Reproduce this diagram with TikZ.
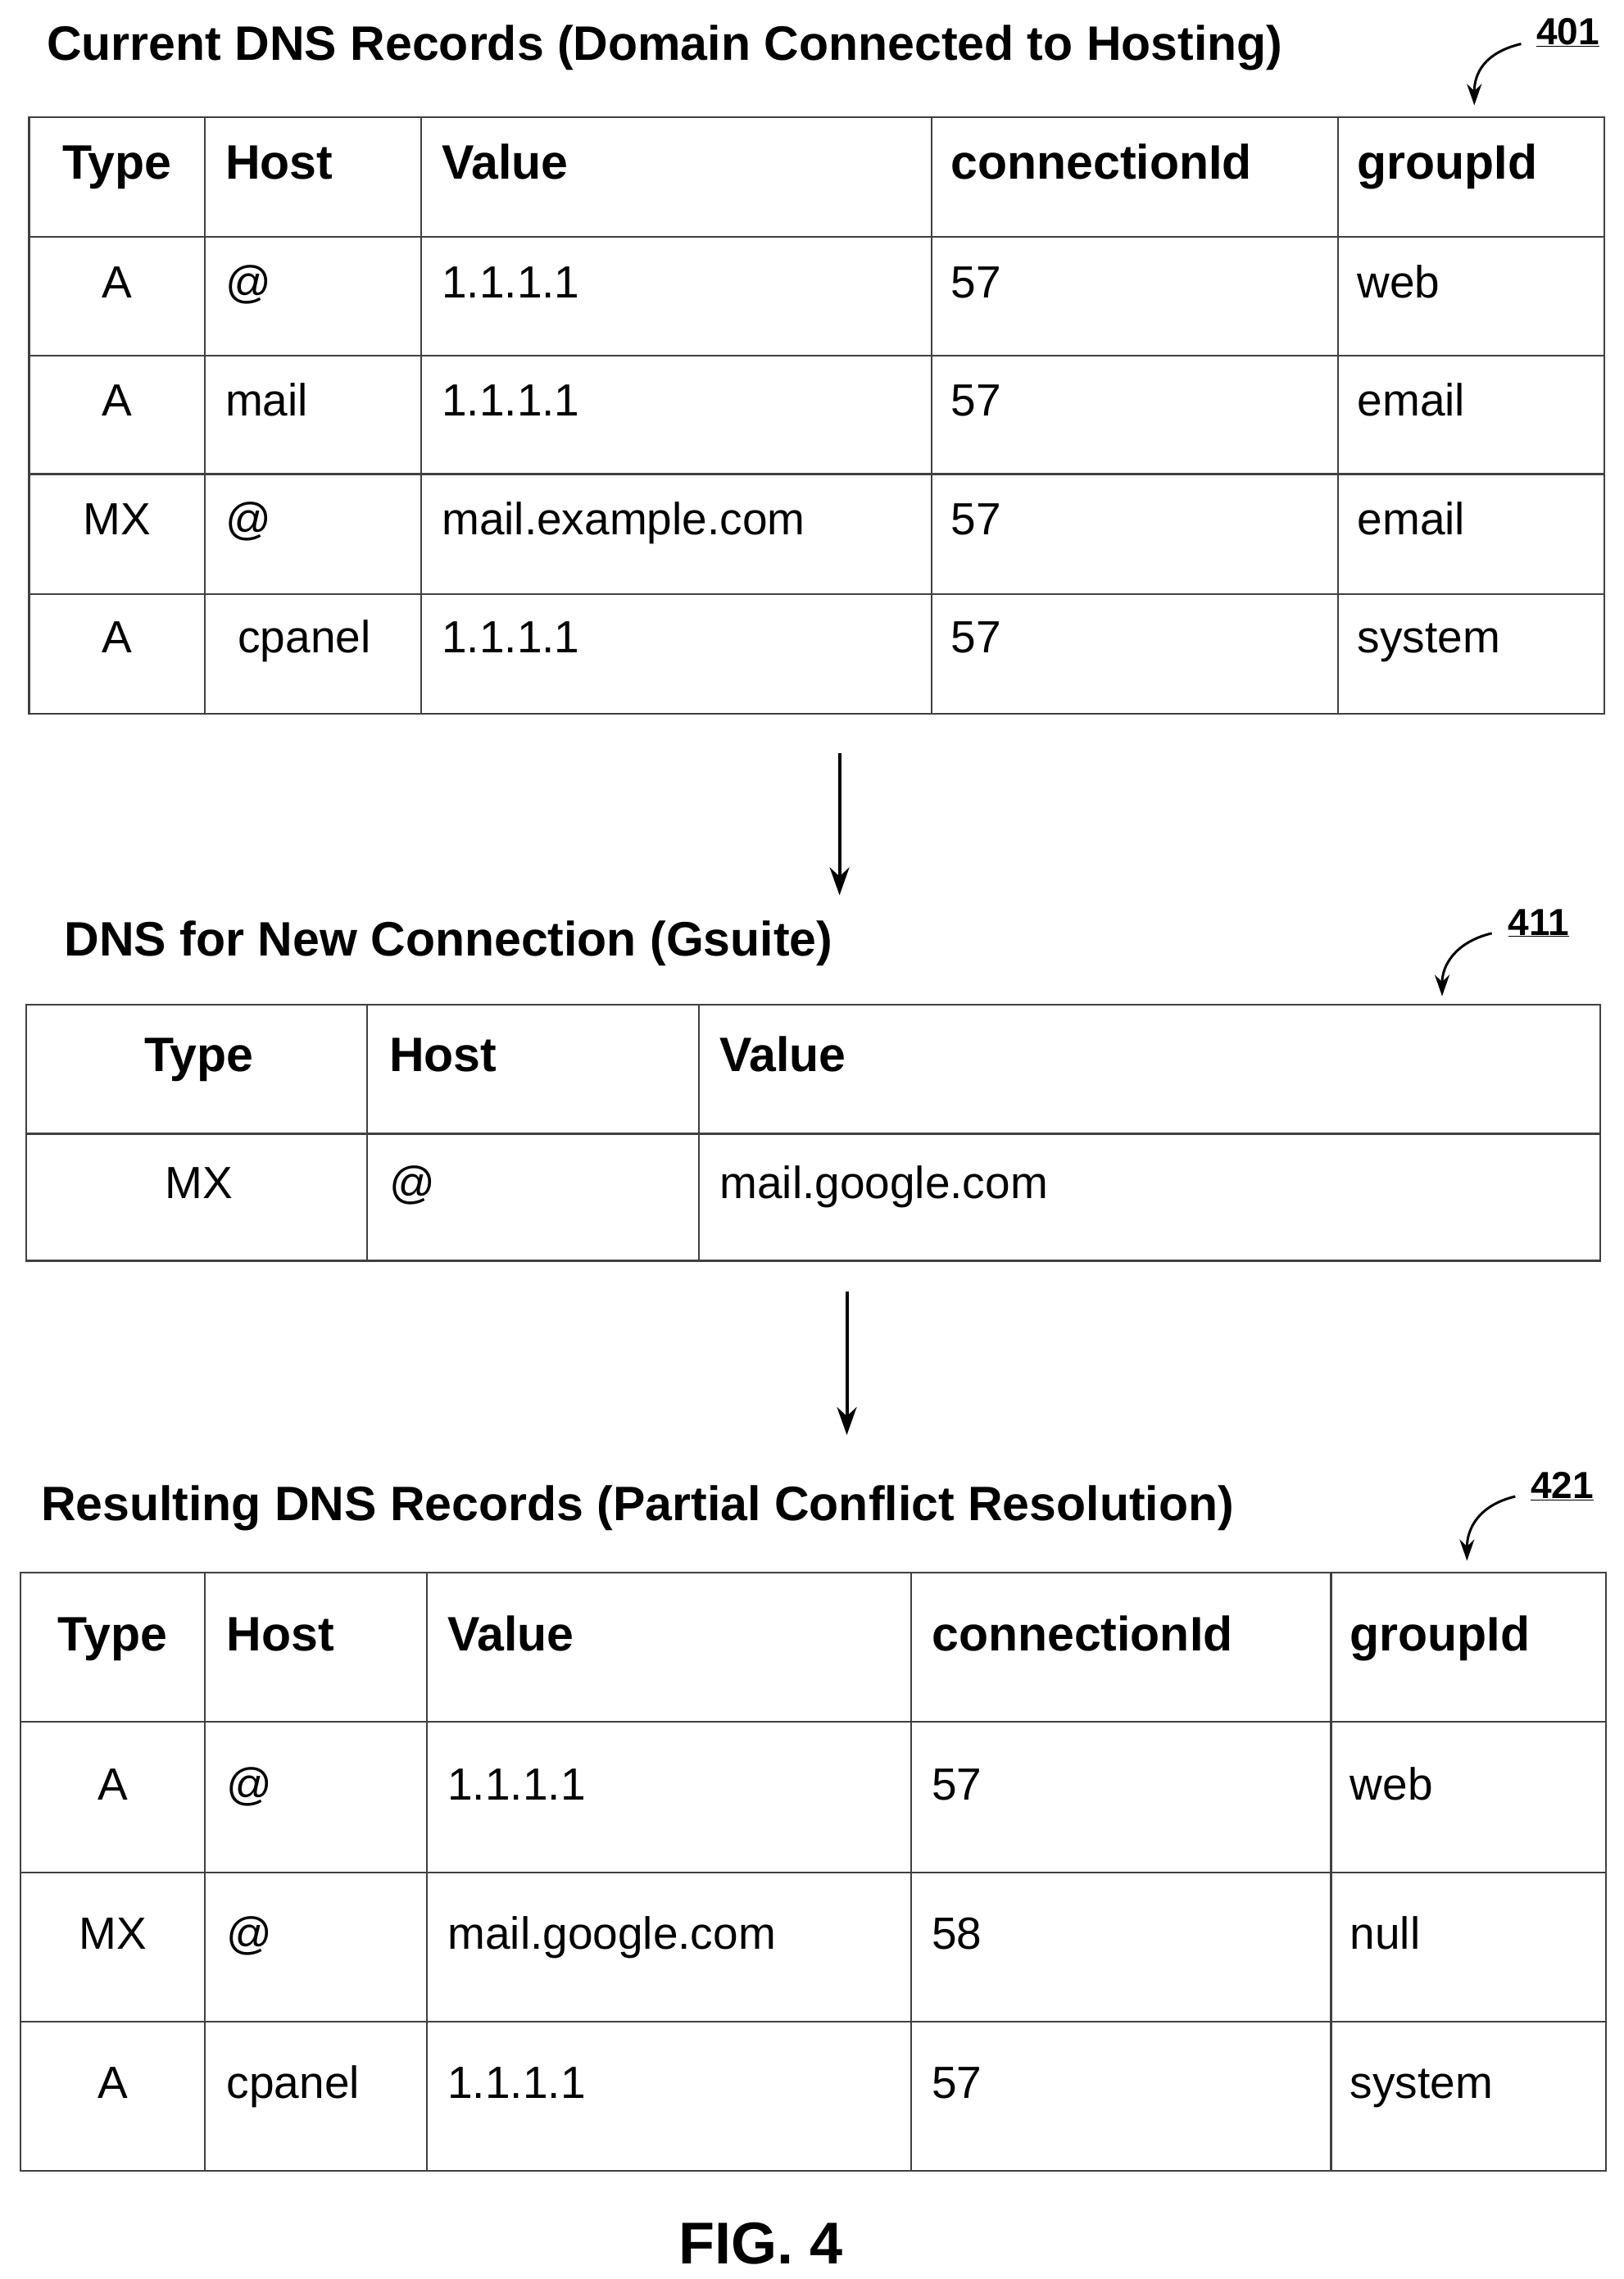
\documentclass[tikz,border=0pt]{standalone}
\usepackage{fontspec}
\setmainfont{Liberation Sans}
\usetikzlibrary{arrows.meta}
\begin{document}
\begin{tikzpicture}[x=1.7847pt,y=-1.7847pt,
  grid/.style={draw=black!75,line width=2.4pt},
  fix/.style={text height=0.72em,text depth=0.22em,inner sep=0pt},
  hd/.style={fix,font=\fontsize{59}{62}\selectfont\bfseries,anchor=west},
  hdc/.style={fix,font=\fontsize{59}{62}\selectfont\bfseries,anchor=center},
  cl/.style={fix,font=\fontsize{55}{58}\selectfont,anchor=west},
  cc/.style={fix,font=\fontsize{55}{58}\selectfont,anchor=center},
  ttl/.style={fix,font=\fontsize{59}{62}\selectfont\bfseries,anchor=west},
  ref/.style={font=\fontsize{46}{50}\selectfont\bfseries},
  arr/.style={line width=4pt,-{Stealth[length=34pt,width=24pt]}},
  carr/.style={line width=3pt,-{Stealth[length=26pt,width=18pt]}}]
\useasboundingbox (0,0) rectangle (1110,1558);
% titles
\node[ttl] (t1) at (32,40) {Current DNS Records (Domain Connected to Hosting)};
\node[ttl] (t2) at (44,652) {DNS for New Connection (Gsuite)};
\node[ttl] (t3) at (28,1038) {Resulting DNS Records (Partial Conflict Resolution)};
% table 1
\draw[grid] (20,80) rectangle (1097,488);
\foreach \x in {140,288,637,915} \draw[grid] (\x,80) -- (\x,488);
\foreach \y in {162,243,324,406} \draw[grid] (20,\y) -- (1097,\y);
\node[hdc] (a1) at (80,121) {Type};
\node[hd] (a2) at (154,121) {Host};
\node[hd] (a3) at (302,121) {Value};
\node[hd] (a4) at (650,121) {connectionId};
\node[hd] (a5) at (928,121) {groupId};
\foreach \r/\y/\t/\h/\v/\g in {1/202/A/@/1.1.1.1/web,2/283/A/mail/1.1.1.1/email,3/364/MX/@/mail.example.com/email,4/445/A/\ cpanel/1.1.1.1/system}{
  \node[cc] (a\r t) at (80,\y) {\t};
  \node[cl] (a\r h) at (154,\y) {\h};
  \node[cl] (a\r v) at (302,\y) {\v};
  \node[cl] (a\r c) at (650,\y) {57};
  \node[cl] (a\r g) at (928,\y) {\g};
}
% table 2
\draw[grid] (18,687) rectangle (1094,862);
\foreach \x in {251,478} \draw[grid] (\x,687) -- (\x,862);
\draw[grid] (18,775) -- (1094,775);
\node[hdc] (b1) at (136,731) {Type};
\node[hd] (b2) at (266,731) {Host};
\node[hd] (b3) at (492,731) {Value};
\node[cc] (b4) at (136,818) {MX};
\node[cl] (b5) at (266,818) {@};
\node[cl] (b6) at (492,818) {mail.google.com};
% table 3
\draw[grid] (14,1075) rectangle (1098,1484);
\foreach \x in {140,292,623,910} \draw[grid] (\x,1075) -- (\x,1484);
\foreach \y in {1177,1280,1382} \draw[grid] (14,\y) -- (1098,\y);
\node[hdc] (c1) at (77,1127) {Type};
\node[hd] (c2) at (155,1127) {Host};
\node[hd] (c3) at (306,1127) {Value};
\node[hd] (c4) at (637,1127) {connectionId};
\node[hd] (c5) at (923,1127) {groupId};
\foreach \r/\y/\t/\h/\v/\c/\g in {1/1229/A/@/1.1.1.1/57/web,2/1331/MX/@/mail.google.com/58/null,3/1433/A/cpanel/1.1.1.1/57/system}{
  \node[cc] (c\r t) at (77,\y) {\t};
  \node[cl] (c\r h) at (155,\y) {\h};
  \node[cl] (c\r v) at (306,\y) {\v};
  \node[cl] (c\r c) at (637,\y) {\c};
  \node[cl] (c\r g) at (923,\y) {\g};
}
% arrows between tables
\coordinate (p1) at (574,515); \coordinate (p2) at (574,612);
\coordinate (q1) at (579,883); \coordinate (q2) at (579,981);
\draw[arr] (p1) -- (p2);
\draw[arr] (q1) -- (q2);
% reference labels
\node[ref] (r1) at (1072,22) {\underline{401}};
\coordinate (r1a) at (1040,30); \coordinate (r1b) at (1008,72);
\draw[carr] (r1a) .. controls (1015,36) and (1008,50) .. (r1b);
\node[ref] (r2) at (1052,631) {\underline{411}};
\coordinate (r2a) at (1020,638); \coordinate (r2b) at (986,681);
\draw[carr] (r2a) .. controls (995,644) and (986,660) .. (r2b);
\node[ref] (r3) at (1068,1016) {\underline{421}};
\coordinate (r3a) at (1036,1023); \coordinate (r3b) at (1003,1067);
\draw[carr] (r3a) .. controls (1011,1029) and (1003,1045) .. (r3b);
% figure label
\node[font=\fontsize{72}{76}\selectfont\bfseries] (fig) at (520,1534) {FIG. 4};
\end{tikzpicture}
\end{document}
